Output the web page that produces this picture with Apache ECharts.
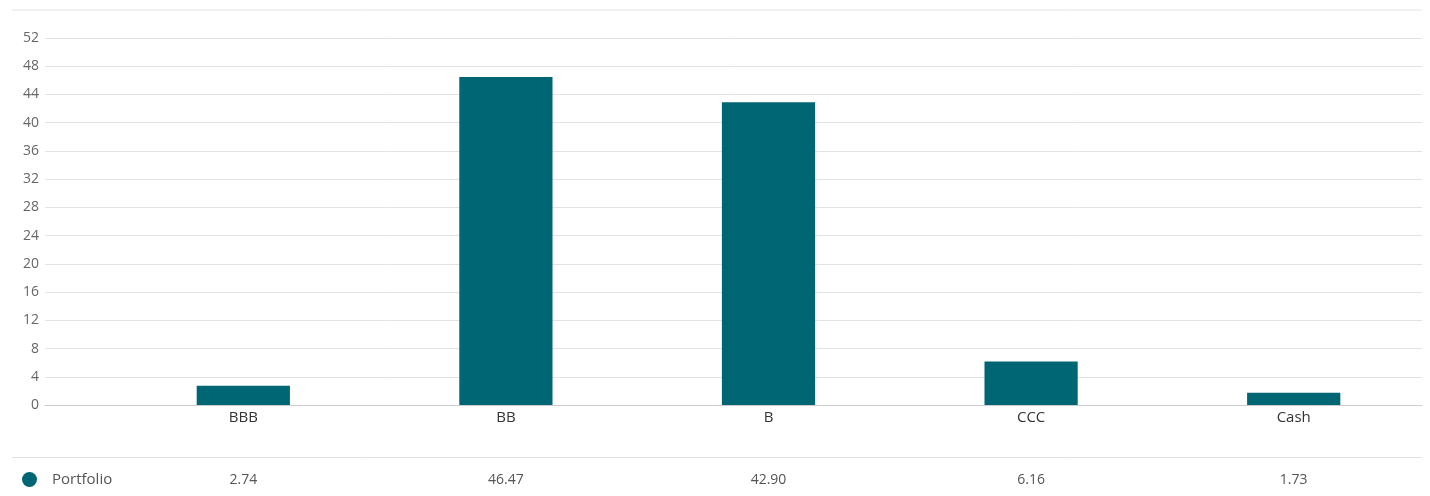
<!DOCTYPE html>
<html>
<head>
<meta charset="utf-8">
<script src="https://cdn.jsdelivr.net/npm/echarts@6/dist/echarts.min.js"></script>
<style>
  html, body { margin: 0; padding: 0; background: #fff; }
  #chart { width: 1430px; height: 496px; }
</style>
</head>
<body>
<div id="chart"></div>
<script>
// 信用评级分布
const categories = ["BBB", "BB", "B", "CCC", "Cash"];
const portfolio = [2.74, 46.47, 42.9, 6.16, 1.73];
const seriesName = "Portfolio";
const yTicks = { min: 0, max: 52, interval: 4 };

const chart = echarts.init(document.getElementById("chart"));
const font = "'Open Sans', sans-serif";

let option = {
  color: ["#006674"],
  animation: false,
  textStyle: { fontFamily: font },
  legend: {
    data: [seriesName],
    left: 22,
    top: 472,
    padding: 0,
    icon: "circle",
    itemWidth: 15,
    itemHeight: 15,
    textStyle: { color: "#555", fontSize: 15, fontFamily: font, padding: [0, 0, 0, 10] },
  },
  grid: [
    { left: 45, right: 8, top: 38, bottom: 91 },
    { left: 112, right: 5, top: 38, bottom: 91 },
  ],
  xAxis: [
    // 网格 + 底线
    {
      gridIndex: 0,
      type: "category",
      data: categories,
      axisLine: { lineStyle: { color: "#ccc" } },
      axisTick: { show: false },
      axisLabel: { show: false },
    },
    {
      gridIndex: 1,
      type: "category",
      data: categories,
      axisLine: { show: false },
      axisTick: { show: false },
      axisLabel: { color: "#333", fontSize: 15, margin: 5, fontFamily: font },
    },
    {
      gridIndex: 1,
      type: "category",
      position: "bottom",
      offset: 63,
      data: portfolio.map((v) => v.toFixed(2)),
      axisLine: { show: false },
      axisTick: { show: false },
      axisLabel: { color: "#555", fontSize: 14, margin: 5, fontFamily: font },
    },
  ],
  yAxis: [
    {
      gridIndex: 0,
      type: "value",
      min: yTicks.min,
      max: yTicks.max,
      interval: yTicks.interval,
      axisLine: { show: false },
      axisTick: { show: false },
      axisLabel: { color: "#666", fontSize: 14, margin: 6, fontFamily: font },
      splitLine: { lineStyle: { color: "#e3e3e3" } },
    },
    {
      gridIndex: 1,
      type: "value",
      min: yTicks.min,
      max: yTicks.max,
      interval: yTicks.interval,
      show: false,
    },
  ],
  graphic: [
    { type: "line", shape: { x1: 12, y1: 10, x2: 1422, y2: 10 }, style: { stroke: "#e3e3e3", lineWidth: 1 } },
    { type: "line", shape: { x1: 12, y1: 457.5, x2: 1422, y2: 457.5 }, style: { stroke: "#e3e3e3", lineWidth: 1 } },
  ],
  series: [
    {
      name: seriesName,
      type: "bar",
      xAxisIndex: 1,
      yAxisIndex: 1,
      barWidth: "35.5%",
      data: portfolio,
    },
  ],
};
chart.setOption(option);
</script>
</body>
</html>
